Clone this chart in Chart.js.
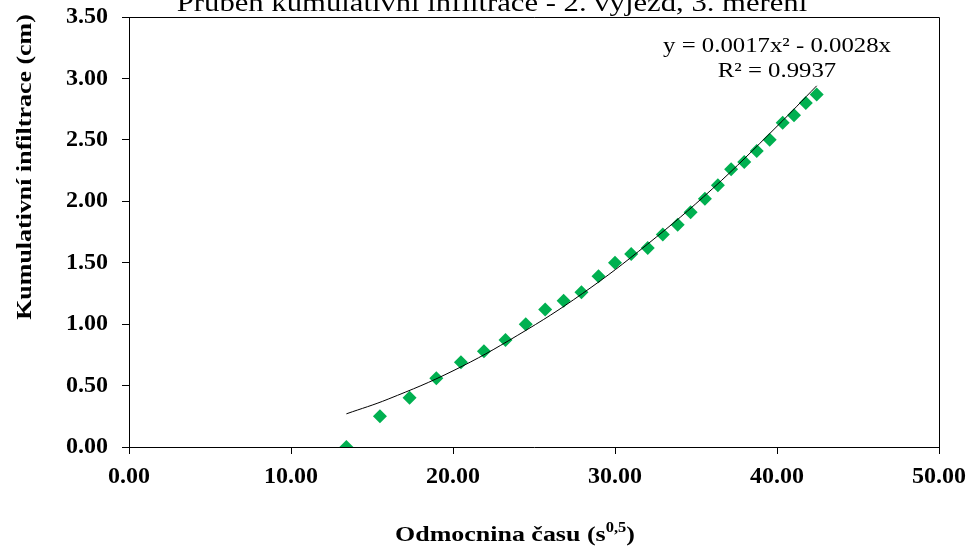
<!DOCTYPE html>
<html lang="cs">
<head>
    <meta charset="UTF-8">
    <title>Průběh kumulativní infiltrace</title>
    <script src="https://cdn.jsdelivr.net/npm/chart.js"></script>
    <style>
        body {
          margin: 0;
          background: #fff;
        }
        canvas {
          display: block;
        }
    </style>
</head>
<body>
    <canvas id="myChart" width="970" height="549"></canvas>

    <script>
        // measured points: square root of time vs cumulative infiltration
        const sqrtTime = [13.42, 15.49, 17.32, 18.97, 20.49, 21.91, 23.24, 24.49, 25.69, 26.83,
                          27.93, 28.98, 30.00, 31.00, 32.02, 32.95, 33.87, 34.67, 35.55, 36.35,
                          37.17, 37.98, 38.75, 39.55, 40.35, 41.05, 41.78, 42.45];
        const infiltration = [0.00, 0.25, 0.40, 0.56, 0.69, 0.78, 0.87, 1.00, 1.12, 1.19,
                              1.26, 1.39, 1.50, 1.57, 1.62, 1.73, 1.81, 1.91, 2.02, 2.13,
                              2.26, 2.32, 2.41, 2.50, 2.64, 2.70, 2.80, 2.87];

        // trendline
        const trendX = [13.42, 16, 20, 24, 28, 32, 36, 40, 42.45];
        const trendY = [0.27, 0.39, 0.62, 0.91, 1.25, 1.65, 2.10, 2.61, 2.94];

        const xTicks = [0, 10, 20, 30, 40, 50];
        const yTicks = [0, 0.5, 1, 1.5, 2, 2.5, 3, 3.5];

        const chartTitle = 'Průběh kumulativní infiltrace - 2. výjezd, 3. měření';
        const yTitle = 'Kumulativní infiltrace (cm)';
        const equationText = 'y = 0.0017x² - 0.0028x';
        const r2Text = 'R² = 0.9937';

        const serif = "'Liberation Serif', 'Times New Roman', serif";
        const stretch = 1.18; // the source picture's text is a little wider than tall

        const points = sqrtTime.map((x, i) => ({ x: x, y: infiltration[i] }));
        const trend = trendX.map((x, i) => ({ x: x, y: trendY[i] }));

        // centred text, slightly stretched sideways
        function wideText(ctx, text, cx, cy, font) {
            ctx.save();
            ctx.translate(cx, cy);
            ctx.scale(stretch, 1);
            ctx.font = font;
            ctx.textAlign = 'center';
            ctx.fillText(text, 0, 0);
            ctx.restore();
        }

        // frame, titles, equation
        const extras = {
            id: 'extras',
            beforeDatasetsDraw(chart) {
                const { ctx, chartArea: a } = chart;
                ctx.save();
                ctx.strokeStyle = '#000';
                ctx.lineWidth = 1;
                ctx.beginPath();
                ctx.moveTo(a.left, a.top + 0.5);
                ctx.lineTo(a.right + 0.5, a.top + 0.5);
                ctx.lineTo(a.right + 0.5, a.bottom);
                ctx.stroke();
                ctx.restore();
            },
            afterDraw(chart) {
                const { ctx } = chart;
                ctx.save();
                ctx.fillStyle = '#000';
                ctx.textBaseline = 'alphabetic';

                wideText(ctx, chartTitle, 492, 11, '26px ' + serif);
                wideText(ctx, equationText, 777, 52, '21px ' + serif);
                wideText(ctx, r2Text, 777, 77, '21px ' + serif);

                // y axis title
                ctx.save();
                ctx.translate(31, 167);
                ctx.rotate(-Math.PI / 2);
                wideText(ctx, yTitle, 0, 0, 'bold 22px ' + serif);
                ctx.restore();

                // x axis title with superscript
                const main = 'Odmocnina času (s';
                const sup = '0,5';
                const end = ')';
                const big = 'bold 22px ' + serif;
                const small = 'bold 14px ' + serif;
                ctx.font = big;
                const w1 = ctx.measureText(main).width;
                const w3 = ctx.measureText(end).width;
                ctx.font = small;
                const w2 = ctx.measureText(sup).width;
                ctx.translate(515, 541);
                ctx.scale(stretch, 1);
                let x = -(w1 + w2 + w3) / 2;
                ctx.textAlign = 'left';
                ctx.font = big;
                ctx.fillText(main, x, 0);
                x += w1;
                ctx.font = small;
                ctx.fillText(sup, x, -9);
                x += w2;
                ctx.font = big;
                ctx.fillText(end, x, 0);
                ctx.restore();
            }
        };

        const ctx = document.getElementById('myChart').getContext('2d');
        const myChart = new Chart(ctx, {
            data: {
                datasets: [{
                    type: 'line',
                    label: 'Trend',
                    data: trend,
                    borderColor: '#000',
                    borderWidth: 1,
                    pointRadius: 0,
                    tension: 0.4,
                    fill: false,
                    order: 0
                }, {
                    type: 'scatter',
                    label: 'Kumulativní infiltrace',
                    data: points,
                    backgroundColor: '#00B050',
                    borderColor: '#00B050',
                    borderWidth: 0,
                    pointStyle: 'rectRot',
                    pointRadius: 7,
                    order: 1
                }]
            },
            options: {
                responsive: false,
                animation: false,
                layout: {
                    padding: { top: 17, right: 31, left: 0, bottom: 0 }
                },
                plugins: {
                    legend: { display: false },
                    tooltip: { enabled: false },
                    title: { display: false }
                },
                scales: {
                    x: {
                        type: 'linear',
                        min: 0,
                        max: 50,
                        afterFit: s => {
                            s.height = 102;
                            s.paddingLeft = 0;
                            s.paddingRight = 0;
                        },
                        afterBuildTicks: s => { s.ticks = xTicks.map(v => ({ value: v })); },
                        grid: {
                            drawOnChartArea: false,
                            drawTicks: true,
                            tickLength: 7,
                            color: '#000'
                        },
                        border: { display: true, color: '#000', width: 1 },
                        ticks: {
                            color: '#000',
                            padding: 8,
                            maxRotation: 0,
                            font: { family: serif, size: 24, weight: 'bold' },
                            callback: v => v.toFixed(2)
                        }
                    },
                    y: {
                        type: 'linear',
                        min: 0,
                        max: 3.5,
                        afterFit: s => {
                            s.width = 129;
                            s.paddingTop = 0;
                            s.paddingBottom = 0;
                        },
                        afterBuildTicks: s => { s.ticks = yTicks.map(v => ({ value: v })); },
                        grid: {
                            drawOnChartArea: false,
                            drawTicks: true,
                            tickLength: 7,
                            color: '#000'
                        },
                        border: { display: true, color: '#000', width: 1 },
                        ticks: {
                            color: '#000',
                            padding: 14,
                            font: { family: serif, size: 24, weight: 'bold' },
                            callback: v => v.toFixed(2)
                        }
                    }
                }
            },
            plugins: [extras]
        });
    </script>
</body>
</html>
